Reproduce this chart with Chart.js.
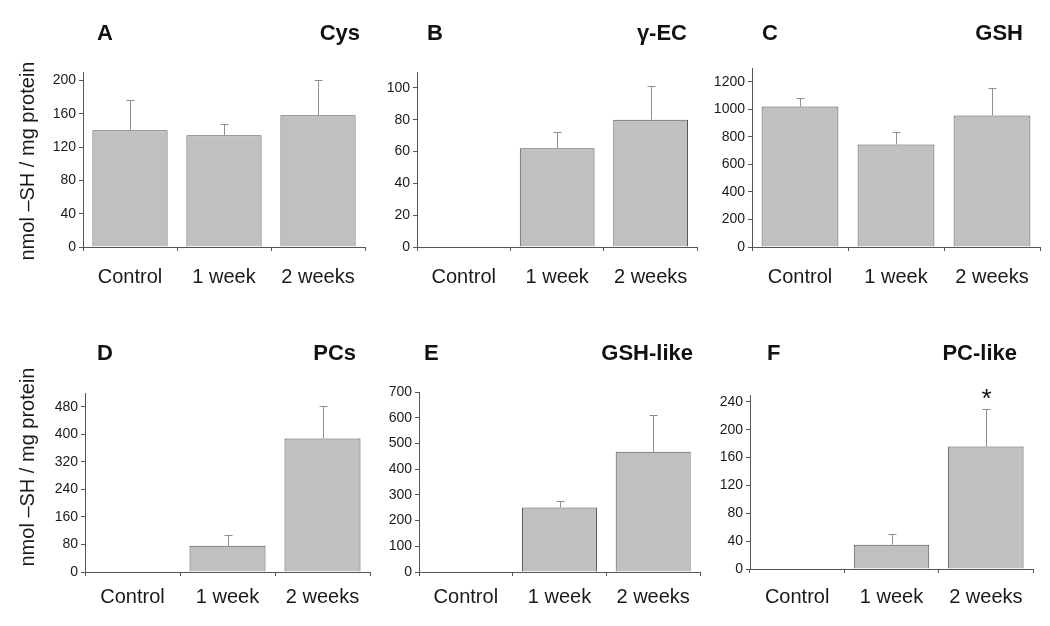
<!DOCTYPE html>
<html>
<head>
<meta charset="utf-8">
<script src="https://cdn.jsdelivr.net/npm/chart.js@4.4.1/dist/chart.umd.min.js"></script>
<style>
  body { margin: 0; width: 1050px; height: 626px; background: #fff; position: relative; overflow: hidden;
         font-family: Arial, "Liberation Sans", sans-serif; }
  canvas { position: absolute; }
  .tag { position: absolute; font-weight: bold; font-size: 22px; line-height: 1; color: #111; white-space: nowrap; }
  .ytitle { position: absolute; width: 260px; height: 24px; line-height: 24px; text-align: center;
            font-size: 20px; color: #1a1a1a; transform: rotate(-90deg); white-space: nowrap; }
</style>
</head>
<body>
<canvas id="cys"></canvas>
<canvas id="gec"></canvas>
<canvas id="gsh"></canvas>
<canvas id="pcs"></canvas>
<canvas id="gshLike"></canvas>
<canvas id="pcLike"></canvas>

<div class="tag" style="left:97px;top:22px">A</div>
<div class="tag" style="right:690px;top:22px">Cys</div>
<div class="tag" style="left:427px;top:22px">B</div>
<div class="tag" style="right:363px;top:22px">γ-EC</div>
<div class="tag" style="left:762px;top:22px">C</div>
<div class="tag" style="right:27px;top:22px">GSH</div>
<div class="tag" style="left:97px;top:342px">D</div>
<div class="tag" style="right:694px;top:342px">PCs</div>
<div class="tag" style="left:424px;top:342px">E</div>
<div class="tag" style="right:357px;top:342px">GSH-like</div>
<div class="tag" style="left:767px;top:342px">F</div>
<div class="tag" style="right:33px;top:342px">PC-like</div>

<div class="ytitle" style="left:-103px;top:149px">nmol –SH / mg protein</div>
<div class="ytitle" style="left:-103px;top:455px">nmol –SH / mg protein</div>

<script>
"use strict";

const groups = ["Control", "1 week", "2 weeks"];

// mean and SD, nmol -SH / mg protein
const cysMean = [140, 134, 158];
const cysSd = [36, 14, 42];
const gecMean = [0, 62, 80];
const gecSd = [0, 10, 21];
const gshMean = [1020, 745, 955];
const gshSd = [60, 88, 202];
const pcsMean = [0, 76, 388];
const pcsSd = [0, 31, 93];
const gshLikeMean = [0, 251, 468];
const gshLikeSd = [0, 24, 143];
const pcLikeMean = [0, 35, 176];
const pcLikeSd = [0, 15, 54];
const pcLikeMarks = ["", "", "*"];

// labelled y ticks
const cysTicks = [0, 40, 80, 120, 160, 200];
const gecTicks = [0, 20, 40, 60, 80, 100];
const gshTicks = [0, 200, 400, 600, 800, 1000, 1200];
const pcsTicks = [0, 80, 160, 240, 320, 400, 480];
const gshLikeTicks = [0, 100, 200, 300, 400, 500, 600, 700];
const pcLikeTicks = [0, 40, 80, 120, 160, 200, 240];

const FONT = "Arial, 'Liberation Sans', sans-serif";
const AXIS = "#555";

// draws the upper SD whisker (and a significance mark) above each bar
const errorBars = {
    id: "errorBars",
    afterDatasetsDraw(chart) {
        const ctx = chart.ctx;
        const y = chart.scales.y;
        const ds = chart.data.datasets[0];
        const meta = chart.getDatasetMeta(0);
        ctx.save();
        meta.data.forEach((bar, i) => {
            const sd = ds.errors[i];
            if (!sd) return;
            const x = Math.round(bar.x) + 0.5;
            const top = Math.round(y.getPixelForValue(ds.data[i] + sd)) + 0.5;
            const base = y.getPixelForValue(ds.data[i]);
            ctx.strokeStyle = "#8f8f8f";
            ctx.lineWidth = 1;
            ctx.beginPath();
            ctx.moveTo(x, base);
            ctx.lineTo(x, top);
            ctx.moveTo(x - 4, top);
            ctx.lineTo(x + 4, top);
            ctx.stroke();
            if (ds.marks && ds.marks[i]) {
                ctx.fillStyle = "#111";
                ctx.font = "26px " + FONT;
                ctx.textAlign = "center";
                ctx.textBaseline = "middle";
                ctx.fillText(ds.marks[i], x, top - 10);
            }
        });
        ctx.restore();
    }
};

/**
 * One panel. rect = canvas box on the page, area = plot box on the page.
 */
function makePanel(id, rect, area, gap, means, sds, ticks, minor, yMax, marks) {
    const canvas = document.getElementById(id);
    canvas.width = rect.w;
    canvas.height = rect.h;
    canvas.style.left = rect.x + "px";
    canvas.style.top = rect.y + "px";

    const tickValues = [];
    for (let v = 0; v <= yMax + 1e-9; v += minor) tickValues.push(v);

    new Chart(canvas, {
        type: "bar",
        data: {
            labels: groups,
            datasets: [{
                data: means,
                errors: sds,
                marks: marks,
                backgroundColor: "#c0c0c0",
                borderColor: "#4f4f4f",
                borderWidth: 1,
                barPercentage: 0.8,
                categoryPercentage: 1
            }]
        },
        options: {
            responsive: false,
            animation: false,
            devicePixelRatio: 1,
            layout: {
                padding: { top: area.t - rect.y, right: rect.x + rect.w - area.r, left: 0, bottom: 0 }
            },
            plugins: { legend: { display: false }, tooltip: { enabled: false } },
            scales: {
                x: {
                    grid: { offset: true, drawOnChartArea: false, tickLength: 4, color: AXIS },
                    border: { color: AXIS, width: 1 },
                    ticks: { color: "#1a1a1a", font: { size: 20, family: FONT }, padding: gap - 4 - 12, maxRotation: 0 },
                    afterFit: s => { s.height = rect.y + rect.h - area.b; }
                },
                y: {
                    min: 0,
                    max: yMax,
                    grid: { drawOnChartArea: false, tickLength: 4, color: AXIS },
                    border: { color: AXIS, width: 1 },
                    ticks: {
                        color: "#1a1a1a",
                        font: { size: 14, family: FONT },
                        padding: 3,
                        callback: v => ticks.includes(v) ? String(v) : ""
                    },
                    afterBuildTicks: s => { s.ticks = tickValues.map(v => ({ value: v })); },
                    afterFit: s => { s.width = area.l - rect.x; }
                }
            }
        },
        plugins: [errorBars]
    });
}

makePanel("cys", { x: 0, y: 0, w: 370, h: 300 }, { l: 83, t: 72, r: 365, b: 247 }, 30,
    cysMean, cysSd, cysTicks, 20, 210);
makePanel("gec", { x: 350, y: 0, w: 352, h: 300 }, { l: 417, t: 72, r: 698, b: 247 }, 30,
    gecMean, gecSd, gecTicks, 10, 110);
makePanel("gsh", { x: 690, y: 0, w: 358, h: 300 }, { l: 752, t: 68, r: 1040, b: 247 }, 30,
    gshMean, gshSd, gshTicks, 100, 1300);
makePanel("pcs", { x: 0, y: 320, w: 372, h: 306 }, { l: 85, t: 393, r: 370, b: 572 }, 25,
    pcsMean, pcsSd, pcsTicks, 40, 520);
makePanel("gshLike", { x: 350, y: 320, w: 352, h: 306 }, { l: 419, t: 392, r: 700, b: 572 }, 25,
    gshLikeMean, gshLikeSd, gshLikeTicks, 50, 700);
makePanel("pcLike", { x: 690, y: 320, w: 358, h: 306 }, { l: 750, t: 395, r: 1033, b: 569 }, 28,
    pcLikeMean, pcLikeSd, pcLikeTicks, 20, 250, pcLikeMarks);
</script>
</body>
</html>
